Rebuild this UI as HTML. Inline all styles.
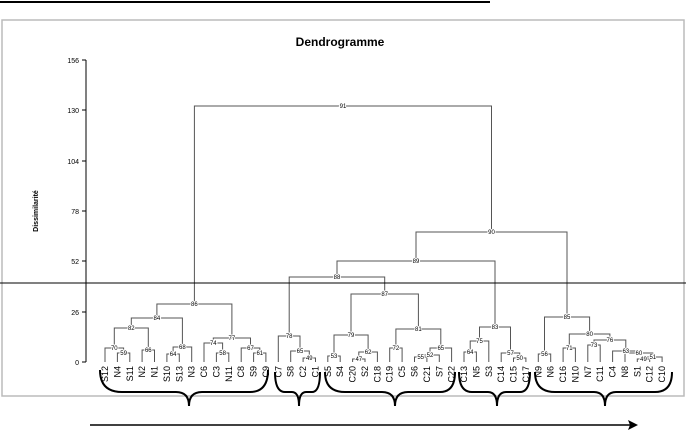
<!DOCTYPE html>
<html><head><meta charset="utf-8"><style>body{margin:0;background:#fff}svg{display:block}</style></head><body>
<svg width="686" height="438" viewBox="0 0 686 438" xmlns="http://www.w3.org/2000/svg" font-family="Liberation Sans, sans-serif">
<line x1="0" y1="2" x2="490" y2="2" stroke="#000" stroke-width="2"/>
<rect x="2" y="20" width="682" height="376" fill="#fff" stroke="#bbb" stroke-width="1.5"/>
<text x="340" y="46" font-size="12" font-weight="bold" text-anchor="middle">Dendrogramme</text>
<text transform="translate(38,211) rotate(-90)" font-size="7" font-weight="bold" text-anchor="middle">Dissimilarité</text>
<g stroke="#000" stroke-width="1">
<line x1="86" y1="60" x2="86" y2="362"/>
<line x1="82" y1="60" x2="86" y2="60"/><line x1="82" y1="110" x2="86" y2="110"/><line x1="82" y1="161" x2="86" y2="161"/><line x1="82" y1="211" x2="86" y2="211"/><line x1="82" y1="261" x2="86" y2="261"/><line x1="82" y1="312" x2="86" y2="312"/><line x1="82" y1="362" x2="86" y2="362"/>
</g>
<g font-size="7" text-anchor="end">
<text x="79" y="63">156</text><text x="79" y="113">130</text><text x="79" y="164">104</text><text x="79" y="214">78</text><text x="79" y="264">52</text><text x="79" y="315">26</text><text x="79" y="365">0</text>
</g>
<g fill="none" stroke="#555" stroke-width="1">
<path d="M117.4 362V353H129.8V362"/>
<path d="M105 362V348H123.6V353"/>
<path d="M142.1 362V350H154.5V362"/>
<path d="M114.3 348V328H148.3V350"/>
<path d="M166.9 362V354H179.3V362"/>
<path d="M173.1 354V347H191.7V362"/>
<path d="M131.3 328V318H182.4V347"/>
<path d="M216.4 362V353H228.8V362"/>
<path d="M204 362V343H222.6V353"/>
<path d="M253.6 362V353H265.9V362"/>
<path d="M241.2 362V348H259.8V353"/>
<path d="M213.3 343V338H250.5V348"/>
<path d="M156.9 318V304H231.9V338"/>
<path d="M303.1 362V358H315.5V362"/>
<path d="M290.7 362V351H309.3V358"/>
<path d="M278.3 362V336H300V351"/>
<path d="M327.8 362V356H340.2V362"/>
<path d="M352.6 362V359H365V362"/>
<path d="M358.8 359V352H377.4V362"/>
<path d="M334 356V335H368.1V352"/>
<path d="M389.7 362V348H402.1V362"/>
<path d="M414.5 362V357H426.9V362"/>
<path d="M420.7 357V355H439.3V362"/>
<path d="M430 355V348H451.6V362"/>
<path d="M395.9 348V329H440.8V348"/>
<path d="M351 335V294H418.4V329"/>
<path d="M289.2 336V277H384.7V294"/>
<path d="M464 362V352H476.4V362"/>
<path d="M470.2 352V341H488.8V362"/>
<path d="M513.5 362V358H525.9V362"/>
<path d="M501.2 362V353H519.7V358"/>
<path d="M479.5 341V327H510.5V353"/>
<path d="M337 277V261H495V327"/>
<path d="M538.3 362V354H550.7V362"/>
<path d="M563.1 362V348H575.4V362"/>
<path d="M587.8 362V345H600.2V362"/>
<path d="M637.3 362V359H649.7V362"/>
<path d="M643.5 359V357H662.1V362"/>
<path d="M625 362V353H652.8V357"/>
<path d="M612.6 362V351H638.9V353"/>
<path d="M594 345V340H625.8V351"/>
<path d="M569.3 348V334H609.9V340"/>
<path d="M544.5 354V317H589.6V334"/>
<path d="M416 261V232H567V317"/>
<path d="M194.4 304V106H491.5V232"/>
</g>
<g font-size="6" text-anchor="middle" style="paint-order:stroke" stroke="#fff" stroke-width="2">
<text x="123.6" y="355">59</text><text x="114.3" y="350">70</text><text x="148.3" y="352">66</text><text x="131.3" y="330">82</text><text x="173.1" y="356">64</text><text x="182.4" y="349">68</text><text x="156.9" y="320">84</text><text x="222.6" y="355">58</text><text x="213.3" y="345">74</text><text x="259.8" y="355">61</text><text x="250.5" y="350">67</text><text x="231.9" y="340">77</text><text x="194.4" y="306">86</text>
<text x="309.3" y="360">49</text><text x="300" y="353">65</text><text x="289.2" y="338">78</text>
<text x="334" y="358">53</text><text x="358.8" y="361">47</text><text x="368.1" y="354">62</text><text x="351" y="337">79</text><text x="395.9" y="350">72</text><text x="420.7" y="359">55</text><text x="430" y="357">52</text><text x="440.8" y="350">65</text><text x="418.4" y="331">81</text><text x="384.7" y="296">87</text><text x="337" y="279">88</text>
<text x="470.2" y="354">64</text><text x="479.5" y="343">75</text><text x="519.7" y="360">50</text><text x="510.5" y="355">57</text><text x="495" y="329">83</text><text x="416" y="263">89</text>
<text x="544.5" y="356">56</text><text x="569.3" y="350">71</text><text x="594" y="347">73</text><text x="643.5" y="361">49</text><text x="652.8" y="359">51</text><text x="638.9" y="355">60</text><text x="625.8" y="353">63</text><text x="609.9" y="342">76</text><text x="589.6" y="336">80</text><text x="567" y="319">85</text><text x="491.5" y="234">90</text><text x="343" y="108">91</text>
</g>
<line x1="0" y1="283" x2="686" y2="283" stroke="#000" stroke-width="1"/>
<g font-size="9" text-anchor="end">
<text transform="translate(108,366) rotate(-90)">S12</text>
<text transform="translate(120.4,366) rotate(-90)">N4</text>
<text transform="translate(132.8,366) rotate(-90)">S11</text>
<text transform="translate(145.1,366) rotate(-90)">N2</text>
<text transform="translate(157.5,366) rotate(-90)">N1</text>
<text transform="translate(169.9,366) rotate(-90)">S10</text>
<text transform="translate(182.3,366) rotate(-90)">S13</text>
<text transform="translate(194.7,366) rotate(-90)">N3</text>
<text transform="translate(207,366) rotate(-90)">C6</text>
<text transform="translate(219.4,366) rotate(-90)">C3</text>
<text transform="translate(231.8,366) rotate(-90)">N11</text>
<text transform="translate(244.2,366) rotate(-90)">C8</text>
<text transform="translate(256.6,366) rotate(-90)">S9</text>
<text transform="translate(268.9,366) rotate(-90)">C9</text>
<text transform="translate(281.3,366) rotate(-90)">C7</text>
<text transform="translate(293.7,366) rotate(-90)">S8</text>
<text transform="translate(306.1,366) rotate(-90)">C2</text>
<text transform="translate(318.5,366) rotate(-90)">C1</text>
<text transform="translate(330.8,366) rotate(-90)">S5</text>
<text transform="translate(343.2,366) rotate(-90)">S4</text>
<text transform="translate(355.6,366) rotate(-90)">C20</text>
<text transform="translate(368,366) rotate(-90)">S2</text>
<text transform="translate(380.4,366) rotate(-90)">C18</text>
<text transform="translate(392.7,366) rotate(-90)">C19</text>
<text transform="translate(405.1,366) rotate(-90)">C5</text>
<text transform="translate(417.5,366) rotate(-90)">S6</text>
<text transform="translate(429.9,366) rotate(-90)">C21</text>
<text transform="translate(442.3,366) rotate(-90)">S7</text>
<text transform="translate(454.6,366) rotate(-90)">C22</text>
<text transform="translate(467,366) rotate(-90)">C13</text>
<text transform="translate(479.4,366) rotate(-90)">N5</text>
<text transform="translate(491.8,366) rotate(-90)">S3</text>
<text transform="translate(504.2,366) rotate(-90)">C14</text>
<text transform="translate(516.5,366) rotate(-90)">C15</text>
<text transform="translate(528.9,366) rotate(-90)">C17</text>
<text transform="translate(541.3,366) rotate(-90)">N9</text>
<text transform="translate(553.7,366) rotate(-90)">N6</text>
<text transform="translate(566.1,366) rotate(-90)">C16</text>
<text transform="translate(578.4,366) rotate(-90)">N10</text>
<text transform="translate(590.8,366) rotate(-90)">N7</text>
<text transform="translate(603.2,366) rotate(-90)">C11</text>
<text transform="translate(615.6,366) rotate(-90)">C4</text>
<text transform="translate(628,366) rotate(-90)">N8</text>
<text transform="translate(640.3,366) rotate(-90)">S1</text>
<text transform="translate(652.7,366) rotate(-90)">C12</text>
<text transform="translate(665.1,366) rotate(-90)">C10</text>
</g>
<g fill="none" stroke="#000" stroke-width="2">
<path d="M100 370Q100 392 122 392H176Q189 392 189 406Q189 392 202 392H250Q268 392 268 370"/>
<path d="M275 372Q275 392 285 392H292Q299 392 299 406Q299 392 306 392H312Q320 392 320 372"/>
<path d="M325 372Q325 392 345 392H382Q395 392 395 406Q395 392 408 392H440Q455 392 455 372"/>
<path d="M459 372Q459 392 472 392H488Q497 392 497 406Q497 392 506 392H520Q530 392 530 372"/>
<path d="M535 372Q535 392 555 392H594Q605 392 605 406Q605 392 616 392H655Q672 392 672 372"/>
</g>
<line x1="90" y1="425" x2="630" y2="425" stroke="#000" stroke-width="1.5"/>
<path d="M638 425L628 420L630 425L628 430Z" fill="#000"/>
</svg>
</body></html>
